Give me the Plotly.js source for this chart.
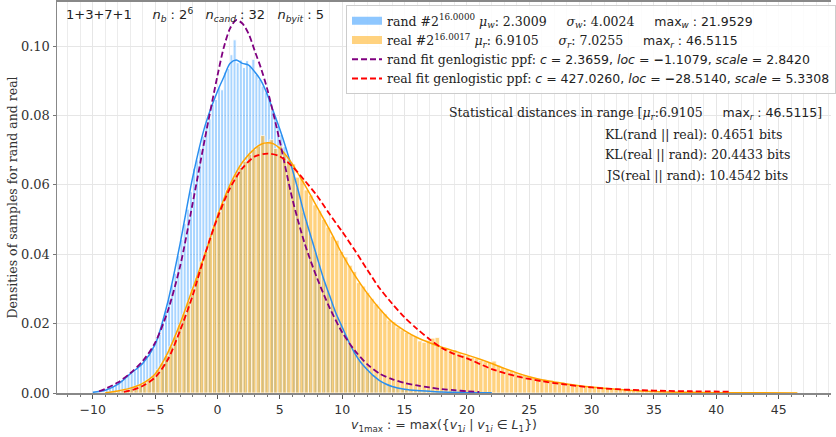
<!DOCTYPE html>
<html>
<head>
<meta charset="utf-8">
<script src="https://cdn.plot.ly/plotly-3.0.1.min.js"></script>
<style>html,body{margin:0;padding:0;background:#fff;}#chart{width:836px;height:437px;}</style>
</head>
<body>
<div id="chart"></div>
<script>
// ---- histogram of "rand" samples (density), bins of width 0.25 starting at -9.5
const randBinStart = -9.5;
const randBinWidth = 0.25;
const randDensity = [
0.0005,0.0006,0.0012,0.0014,0.0019,0.0022,0.0030,0.0036,0.0042,0.0050,
0.0058,0.0064,0.0073,0.0079,0.0092,0.0101,0.0113,0.0128,0.0152,0.0170,
0.0203,0.0236,0.0270,0.0312,0.0345,0.0396,0.0442,0.0488,0.0530,0.0580,
0.0648,0.0672,0.0705,0.0740,0.0775,0.0790,0.0832,0.0846,0.0880,0.0874,
0.0925,0.0935,0.0975,0.1018,0.0952,0.0960,0.0938,0.0958,0.0945,0.0962,
0.0918,0.0904,0.0885,0.0866,0.0850,0.0815,0.0798,0.0770,0.0745,0.0710,
0.0682,0.0660,0.0628,0.0592,0.0565,0.0520,0.0495,0.0462,0.0438,0.0405,
0.0372,0.0345,0.0318,0.0296,0.0270,0.0242,0.0221,0.0198,0.0180,0.0158,
0.0142,0.0124,0.0110,0.0095,0.0082,0.0072,0.0062,0.0053,0.0046,0.0040,
0.0034,0.0028,0.0024,0.0021,0.0018,0.0016,0.0014,0.0012,0.0011,0.0010,
0.0009,0.0008,0.0007,0.0007,0.0006,0.0005,0.0005,0.0004,0.0004,0.0003,
0.0003,0.0003,0.0002,0.0002,0.0002,0.0002,0.0001,0.0001,0.0001,0.0001,
0.0001,0.0001,0.0000,0.0001,0.0000,0.0001
];

// ---- histogram of "real" samples (density), bins of width 0.35 starting at -9.5
const realBinStart = -9.5;
const realBinWidth = 0.35;
const realDensity = [
0.0001,0.0001,0.0003,0.0004,0.0006,0.0009,0.0011,0.0015,0.0020,0.0025,
0.0032,0.0040,0.0050,0.0068,0.0086,0.0108,0.0135,0.0162,0.0196,0.0228,
0.0262,0.0300,0.0333,0.0378,0.0408,0.0448,0.0482,0.0522,0.0548,0.0585,
0.0606,0.0632,0.0650,0.0668,0.0688,0.0702,0.0712,0.0742,0.0722,0.0730,
0.0705,0.0712,0.0690,0.0672,0.0660,0.0622,0.0618,0.0585,0.0570,0.0542,
0.0525,0.0500,0.0478,0.0452,0.0440,0.0408,0.0392,0.0368,0.0350,0.0318,
0.0308,0.0290,0.0272,0.0256,0.0240,0.0228,0.0210,0.0205,0.0190,0.0182,
0.0175,0.0168,0.0162,0.0150,0.0146,0.0152,0.0158,0.0160,0.0132,0.0128,
0.0122,0.0124,0.0116,0.0110,0.0108,0.0102,0.0099,0.0094,0.0090,0.0088,
0.0092,0.0080,0.0074,0.0068,0.0065,0.0060,0.0055,0.0052,0.0048,0.0045,
0.0040,0.0038,0.0036,0.0034,0.0032,0.0030,0.0027,0.0025,0.0023,0.0022,
0.0020,0.0019,0.0017,0.0016,0.0015,0.0014,0.0013,0.0012,0.0011,0.0010,
0.0009,0.0008,0.0008,0.0007,0.0006,0.0006,0.0005,0.0004,0.0004,0.0003,
0.0003,0.0003,0.0002,0.0002,0.0002,0.0002,0.0002,0.0001,0.0001,0.0001,
0.0001,0.0001,0.0001,0.0001,0.0001,0.0001,0.0000,0.0001,0.0000,0.0001,
0.0000,0.0000,0.0001,0.0000,0.0000,0.0000,0.0000,0.0000,0.0000,0.0001
];

// ---- KDE of rand (solid blue)
const randKdeX = [-10,-9,-8,-7,-6,-5,-4,-3,-2,-1,0,0.5,1,1.5,2,2.5,3,3.5,4,4.5,5,5.5,6,6.5,7,7.5,8,8.5,9,9.5,10,10.5,11,11.5,12,12.5,13,13.5,14,15,16,17,18,19,20,22];
const randKdeY = [0.0002,0.0008,0.0025,0.0055,0.0085,0.014,0.026,0.043,0.062,0.077,0.087,0.091,0.095,0.096,0.095,0.0945,0.0925,0.090,0.086,0.081,0.076,0.0705,0.0645,0.058,0.051,0.045,0.039,0.033,0.028,0.023,0.019,0.015,0.0115,0.0088,0.0068,0.005,0.0036,0.0026,0.0019,0.0011,0.0007,0.0005,0.0003,0.0002,0.0001,0.00005];

// ---- KDE of real (solid orange)
const realKdeX = [-9,-8,-7,-6,-5,-4,-3,-2,-1,0,1,2,3,3.5,4,4.5,5,5.5,6,6.5,7,7.5,8,9,10,11,12,13,14,15,16,17,18,19,20,21,22,23,24,25,26,27,28,29,30,31,32,33,34,35,36,38,40,43,46.5];
const realKdeY = [0.0001,0.0006,0.0014,0.0028,0.0055,0.0115,0.020,0.030,0.040,0.051,0.060,0.0665,0.0705,0.0717,0.0721,0.0718,0.0705,0.0685,0.066,0.063,0.060,0.0568,0.0535,0.047,0.040,0.034,0.0288,0.0243,0.0205,0.0180,0.0160,0.0145,0.0132,0.0121,0.0110,0.0098,0.0085,0.0071,0.0058,0.0047,0.0038,0.0032,0.0026,0.0021,0.0017,0.0014,0.0011,0.0008,0.0006,0.0004,0.0003,0.0002,0.0001,0.00005,0.00002];

// ---- genlogistic fit for rand (purple dashed)
const randFitX = [-9.5,-9,-8,-7,-6,-5,-4,-3,-2,-1,0,0.5,1,1.5,2,2.5,3,3.5,4,5,6,7,8,9,10,11,12,13,14,15,16,17,18,19,20,21];
const randFitY = [0.0005,0.0012,0.0030,0.0057,0.0092,0.0145,0.0235,0.0365,0.0545,0.0735,0.0915,0.0995,0.1050,0.1075,0.1065,0.1035,0.0985,0.0935,0.0875,0.0725,0.0560,0.0430,0.0330,0.0245,0.0175,0.0123,0.0083,0.0056,0.0040,0.0029,0.0022,0.0016,0.0011,0.0008,0.0005,0.0003];

// ---- genlogistic fit for real (red dashed)
const realFitX = [-7.5,-7,-6,-5,-4,-3,-2,-1,0,1,2,3,4,5,6,7,8,9,10,11,12,13,14,15,16,17,18,19,20,22,24,26,28,30,32,34,36,38,41];
const realFitY = [0.0003,0.0007,0.0020,0.0045,0.0095,0.0180,0.0280,0.0400,0.0505,0.0590,0.0648,0.0682,0.0690,0.0682,0.0653,0.0612,0.0568,0.0515,0.0465,0.0412,0.0356,0.0302,0.0258,0.0218,0.0185,0.0155,0.0130,0.0112,0.0100,0.0069,0.0048,0.0034,0.0024,0.0016,0.0011,0.0008,0.0006,0.0005,0.0004];

// ---- texts
const nb = '\u00a0';
const sp = n => nb.repeat(n);
const legendRand = 'rand #2<sup>16.0000</sup> <i>μ<sub>w</sub></i>: 2.3009' + sp(5) + '<i>σ<sub>w</sub></i>: 4.0024' + sp(5) + '<span style="font-family:DejaVu Sans">max<sub><i>w</i></sub> : 21.9529</span>';
const legendReal = 'real #2<sup>16.0017</sup> <i>μ<sub>r</sub></i>: 6.9105' + sp(5) + '<i>σ<sub>r</sub></i>: 7.0255' + sp(5) + '<span style="font-family:DejaVu Sans">max<sub><i>r</i></sub> : 46.5115</span>';
const legendRandFit = 'rand fit genlogistic ppf: <span style="font-family:DejaVu Sans"><i>c</i> = 2.3659, <i>loc</i> = <b>−</b>1.1079, <i>scale</i> = 2.8420</span>';
const legendRealFit = 'real fit genlogistic ppf: <span style="font-family:DejaVu Sans"><i>c</i> = 427.0260, <i>loc</i> = <b>−</b>28.5140, <i>scale</i> = 5.3308</span>';
const topLeftText = '1+3+7+1' + sp(5) + '<i>n<sub>b</sub></i> : 2<sup>6</sup>' + sp(3) + '<i>n<sub>cand</sub></i> : 32' + sp(3) + '<i>n<sub>byit</sub></i> : 5';
const statsHeader = 'Statistical distances in range [<i>μ<sub>r</sub></i>:6.9105' + sp(5) + '<span style="font-family:DejaVu Sans">max<sub><i>r</i></sub> : 46.5115</span>]';
const statsLines = ['KL(rand || real): 0.4651 bits', 'KL(real || rand): 20.4433 bits', 'JS(real || rand): 10.4542 bits'];

const randColor = 'rgba(30,144,255,0.5)';
const realColor = 'rgba(255,165,0,0.5)';
const randBarColor = 'rgba(30,144,255,0.38)';
const realBarColor = 'rgba(255,165,0,0.5)';

const centers = (start, w, n) => Array.from({length: n}, (_, i) => start + w * (i + 0.5));

const traces = [
  {type: 'bar', x: centers(randBinStart, randBinWidth, randDensity.length), y: randDensity, width: randBinWidth,
   marker: {color: randBarColor, line: {color: 'rgba(255,255,255,0.95)', width: 1}},
   showlegend: false, hoverinfo: 'skip'},
  {type: 'bar', x: centers(realBinStart, realBinWidth, realDensity.length), y: realDensity, width: realBinWidth,
   marker: {color: realBarColor, line: {color: 'rgba(255,255,255,0.9)', width: 0.8}},
   showlegend: false, hoverinfo: 'skip'},
  // legend proxies (wide patches like the reference legend)
  {type: 'scatter', mode: 'lines', x: [null], y: [null], line: {color: randColor, width: 8}, name: legendRand, showlegend: true, hoverinfo: 'skip'},
  {type: 'scatter', mode: 'lines', x: [null], y: [null], line: {color: realColor, width: 8}, name: legendReal, showlegend: true, hoverinfo: 'skip'},
  {type: 'scatter', mode: 'lines', x: randKdeX, y: randKdeY, line: {color: '#2a8ff0', width: 1.5, shape: 'spline', smoothing: 0.8}, showlegend: false, hoverinfo: 'skip'},
  {type: 'scatter', mode: 'lines', x: realKdeX, y: realKdeY, line: {color: '#ffa500', width: 1.5, shape: 'spline', smoothing: 0.8}, showlegend: false, hoverinfo: 'skip'},
  {type: 'scatter', mode: 'lines', x: randFitX, y: randFitY, line: {color: 'purple', width: 1.8, dash: '6px,3px', shape: 'spline', smoothing: 0.8}, name: legendRandFit, hoverinfo: 'skip'},
  {type: 'scatter', mode: 'lines', x: realFitX, y: realFitY, line: {color: 'red', width: 1.8, dash: '6px,3px', shape: 'spline', smoothing: 0.8}, name: legendRealFit, hoverinfo: 'skip'}
];

const serif = 'DejaVu Serif, serif';
const annFont = {family: serif, size: 12.5, color: '#222'};

const annotations = [
  {xref: 'paper', yref: 'paper', x: 0.009, y: 0.967, xanchor: 'left', yanchor: 'middle', showarrow: false, text: topLeftText, font: {family: 'DejaVu Sans, sans-serif', size: 13, color: '#222'}},
  {xref: 'paper', yref: 'paper', x: 0.5045, y: 0.716, xanchor: 'left', yanchor: 'middle', showarrow: false, text: statsHeader, font: annFont}
];
const statsY = [0.660, 0.6087, 0.5575];
statsLines.forEach((t, i) => annotations.push({xref: 'paper', yref: 'paper', x: 0.7048, y: statsY[i], xanchor: 'left', yanchor: 'middle', showarrow: false, text: t, font: annFont}));

const layout = {
  width: 836, height: 437,
  margin: {l: 57, r: 0, t: 2, b: 44},
  paper_bgcolor: '#fff', plot_bgcolor: '#fff',
  barmode: 'overlay', bargap: 0,
  font: {family: serif, size: 12.5, color: '#222'},
  xaxis: {
    range: [-12.87, 49.2], autorange: false,
    tickmode: 'linear', tick0: 0, dtick: 5,
    ticks: 'outside', ticklen: 4, tickcolor: '#555',
    showgrid: true, gridcolor: '#e6e6e6', gridwidth: 1,
    minor: {dtick: 1, tick0: 0, showgrid: true, gridcolor: '#ececec', gridwidth: 1, ticks: 'outside', ticklen: 2, tickcolor: '#777'},
    showline: true, linecolor: '#888', linewidth: 2, mirror: true,
    zeroline: false,
    tickfont: {family: 'DejaVu Sans, sans-serif', size: 12.5, color: '#333'},
    title: {text: '<i>v</i><sub>1max</sub> : = max({<i>v</i><sub>1<i>i</i></sub> | <i>v</i><sub>1<i>i</i></sub> ∈ <i>L</i><sub>1</sub>})', font: {family: 'DejaVu Sans, sans-serif', size: 12.5, color: '#333'}, standoff: 4}
  },
  yaxis: {
    range: [0, 0.1127], autorange: false,
    tickmode: 'linear', tick0: 0, dtick: 0.02, tickformat: '.2f',
    ticks: 'outside', ticklen: 3, tickcolor: '#777',
    showgrid: true, gridcolor: '#e6e6e6', gridwidth: 1,
    showline: true, linecolor: '#888', linewidth: 1.5,
    zeroline: false,
    tickfont: {family: serif, size: 13, color: '#333'},
    title: {text: 'Densities of samples for rand and real', font: {family: serif, size: 12.5, color: '#333'}, standoff: 0}
  },
  legend: {
    x: 0.3736, y: 0.992, xanchor: 'left', yanchor: 'top',
    bgcolor: 'rgba(255,255,255,0.85)', bordercolor: '#cccccc', borderwidth: 1,
    font: {family: serif, size: 12.5, color: '#222'},
    tracegroupgap: 0, itemwidth: 30
  },
  annotations: annotations
};

Plotly.newPlot('chart', traces, layout, {staticPlot: true, displayModeBar: false});
</script>
</body>
</html>
